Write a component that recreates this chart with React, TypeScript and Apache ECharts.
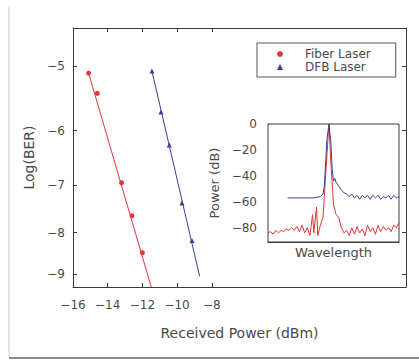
import React, { useEffect, useRef } from "react";
import * as echarts from "echarts";

// Main plot: BER measurements
const fiberPower = [-15.1, -14.6, -13.2, -12.6, -12.0];
const fiberLogBER = [-5.1, -5.4, -6.95, -7.63, -8.47];
const dfbPower = [-11.45, -10.93, -10.45, -9.72, -9.14];
const dfbLogBER = [-5.07, -5.69, -6.25, -7.36, -8.18];

// Fitted lines (end points)
const fiberFitPower = [-15.1, -11.49];
const fiberFitLogBER = [-5.1, -9.33];
const dfbFitPower = [-11.45, -8.7];
const dfbFitLogBER = [-5.07, -9.05];

const xTicks = [-16, -14, -12, -10, -8];
const yTicks = [-5, -6, -7, -8, -9];

// Inset: optical spectra (relative wavelength, power dB)
const dfbWl = [15, 20, 25, 30, 35, 40, 42, 43, 44, 45, 46.5, 48, 49, 50, 51, 52, 54, 56, 58, 60, 62, 64, 66, 68, 70, 72, 74, 76, 78, 80, 82, 84, 86, 88, 90, 92, 94, 96, 98, 100];
const dfbPow = [-57, -57, -57, -57, -57, -56, -54, -48, -30, -12, 0, -14, -35, -44, -42, -45, -48, -51, -53, -54, -56, -54, -57, -55, -58, -55, -57, -55, -58, -55, -57, -55, -58, -56, -57, -55, -58, -55, -57, -56];
const fiberWl = [0, 2, 4, 6, 8, 10, 12, 14, 16, 18, 20, 22, 24, 26, 28, 30, 32, 34, 35, 37, 38, 40, 42, 44, 46.5, 48, 50, 52, 54, 56, 58, 60, 62, 64, 66, 68, 70, 72, 74, 76, 78, 80, 82, 84, 86, 88, 90, 92, 94, 96, 98, 100];
const fiberPow = [-84, -83, -85, -82, -84, -82, -83, -81, -82, -80, -82, -79, -83, -78, -84, -80, -86, -70, -84, -64, -86, -78, -72, -40, 0, -30, -62, -70, -72, -80, -84, -82, -86, -80, -85, -79, -84, -81, -86, -78, -83, -80, -85, -78, -83, -79, -82, -80, -83, -78, -80, -76];
const insetYTicks = [0, -20, -40, -60, -80];

const RED = "#e4353a";
const BLUE = "#3b3f8e";
const AXIS = "#3a3a3a";
const TEXT = "#4a4a4a";
const FONT = "DejaVu Sans, sans-serif";

// y axis scale: log10(-log10(BER))
const ber = (v: number) => Math.log10(-v);

export default function App() {
  const ref = useRef<HTMLDivElement>(null);
  useEffect(() => {
    if (!ref.current) return;
    const chart = echarts.init(ref.current, null, { renderer: "svg" });
    const zip = (xs: number[], ys: number[], f = (v: number) => v) => xs.map((x, i) => [x, f(ys[i])]);
    const yMinT = ber(-4.49);
    const yMaxT = ber(-9.33);
    const yCustom = yTicks.map(ber);
    const tickStyle = { lineStyle: { color: AXIS, width: 1 } };
    const lineAx = { show: true, onZero: false, lineStyle: { color: AXIS } };
    chart.setOption({
      animation: false,
      backgroundColor: "#fff",
      textStyle: { fontFamily: FONT },
      graphic: [
        { type: "line", shape: { x1: 9, y1: 6, x2: 9, y2: 357 }, style: { stroke: "#ccc", lineWidth: 1 }, z: 0 },
        { type: "line", shape: { x1: 9, y1: 358, x2: 419, y2: 358 }, style: { stroke: "#888", lineWidth: 2 }, z: 0 },
      ],
      legend: {
        left: 257,
        top: 43,
        orient: "vertical",
        borderColor: "#555",
        borderWidth: 1,
        backgroundColor: "#fff",
        padding: [5, 25, 4, 20],
        itemGap: 1,
        itemWidth: 6,
        itemHeight: 6,
        textStyle: { fontSize: 12, color: TEXT, fontFamily: FONT, padding: [0, 0, 0, 17] },
        data: [
          { name: "Fiber Laser", icon: "circle" },
          { name: "DFB Laser", icon: "triangle" },
        ],
        z: 10,
      },
      grid: [
        { left: 73, top: 28, width: 333, height: 259, show: false },
        { left: 268, top: 124, width: 131, height: 118, show: true, backgroundColor: "#fff", borderColor: AXIS, borderWidth: 1, z: 5 },
      ],
      xAxis: [
        {
          type: "value", gridIndex: 0, min: -16, max: 3.2,
          name: "Received Power (dBm)", nameLocation: "middle", nameGap: 39,
          nameTextStyle: { fontSize: 14, color: TEXT },
          axisLine: lineAx,
          axisTick: { inside: true, length: 4, customValues: xTicks, ...tickStyle },
          axisLabel: { customValues: xTicks, fontSize: 12, color: TEXT, margin: 12, formatter: (v: number) => String(v).replace("-", "−") },
          splitLine: { show: false },
        },
        {
          type: "value", gridIndex: 0, min: -16, max: 3.2, position: "top",
          axisLine: lineAx,
          axisTick: { inside: true, length: 4, customValues: xTicks, ...tickStyle },
          axisLabel: { show: false },
          splitLine: { show: false },
        },
        {
          type: "value", gridIndex: 1, min: 0, max: 100,
          name: "Wavelength", nameLocation: "middle", nameGap: 4,
          nameTextStyle: { fontSize: 13, color: TEXT, verticalAlign: "top" },
          axisLine: lineAx,
          axisTick: { show: false }, axisLabel: { show: false }, splitLine: { show: false },
        },
      ],
      yAxis: [
        {
          type: "value", gridIndex: 0, min: yMinT, max: yMaxT, inverse: true,
          name: "Log(BER)", nameLocation: "middle", nameGap: 36,
          nameTextStyle: { fontSize: 14, color: TEXT },
          axisLine: lineAx,
          axisTick: { inside: true, length: 4, customValues: yCustom, ...tickStyle },
          axisLabel: { customValues: yCustom, fontSize: 12, color: TEXT, margin: 8, formatter: (v: number) => "−" + Math.round(Math.pow(10, v)) },
          splitLine: { show: false },
        },
        {
          type: "value", gridIndex: 0, min: yMinT, max: yMaxT, inverse: true, position: "right",
          axisLine: lineAx,
          axisTick: { inside: true, length: 4, customValues: yCustom, ...tickStyle },
          axisLabel: { show: false },
          splitLine: { show: false },
        },
        {
          type: "value", gridIndex: 1, min: -91, max: 0,
          name: "Power (dB)", nameLocation: "middle", nameGap: 47,
          nameTextStyle: { fontSize: 13, color: TEXT },
          axisLine: lineAx,
          axisTick: { inside: true, length: 3, customValues: insetYTicks, ...tickStyle },
          axisLabel: { customValues: insetYTicks, fontSize: 12, color: TEXT, margin: 11, formatter: (v: number) => String(v).replace("-", "−") },
          splitLine: { show: false },
        },
      ],
      series: [
        {
          name: "Fiber Laser", type: "line", xAxisIndex: 0, yAxisIndex: 0,
          data: zip(fiberPower, fiberLogBER, ber),
          lineStyle: { width: 0 }, symbol: "circle", symbolSize: 5,
          itemStyle: { color: RED }, z: 3,
        },
        {
          name: "DFB Laser", type: "line", xAxisIndex: 0, yAxisIndex: 0,
          data: zip(dfbPower, dfbLogBER, ber),
          lineStyle: { width: 0 }, symbol: "triangle", symbolSize: 5,
          itemStyle: { color: BLUE }, z: 3,
        },
        {
          name: "Fiber fit", type: "line", xAxisIndex: 0, yAxisIndex: 0,
          data: zip(fiberFitPower, fiberFitLogBER, ber), showSymbol: false,
          lineStyle: { color: RED, width: 1 }, z: 2,
        },
        {
          name: "DFB fit", type: "line", xAxisIndex: 0, yAxisIndex: 0,
          data: zip(dfbFitPower, dfbFitLogBER, ber), showSymbol: false,
          lineStyle: { color: BLUE, width: 1 }, z: 2,
        },
        {
          name: "Fiber spectrum", type: "line", xAxisIndex: 2, yAxisIndex: 2,
          data: zip(fiberWl, fiberPow), showSymbol: false,
          lineStyle: { color: RED, width: 1 }, z: 6,
        },
        {
          name: "DFB spectrum", type: "line", xAxisIndex: 2, yAxisIndex: 2,
          data: zip(dfbWl, dfbPow), showSymbol: false,
          lineStyle: { color: BLUE, width: 1 }, z: 7,
        },
      ],
    });
    return () => chart.dispose();
  }, []);
  return <div ref={ref} style={{ position: "absolute", left: 0, top: 0, width: 419, height: 360 }} />;
}
